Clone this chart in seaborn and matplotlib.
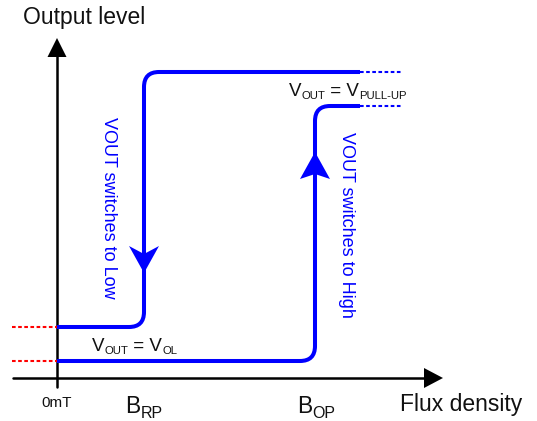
import numpy as np
import pandas as pd
import seaborn as sns
import matplotlib.pyplot as plt
from matplotlib.path import Path
from matplotlib.patches import PathPatch, Polygon

# schematic layout: 1 unit = 1 px, y measured upward from the bottom edge
x0, y0 = 57, 43                 # origin (0mT)
x_axis_left, x_axis_tip = 13, 443
y_axis_bottom, y_axis_tip = 34, 383
b_rp, b_op = 144, 315

# release path (switch to low at B_RP)
rp_x = [57, 144, 144, 360]
rp_y = [94, 94, 349, 349]
# operate path (switch to high at B_OP)
op_x = [57, 315, 315, 360]
op_y = [60, 60, 315, 315]

high_levels = [349, 315]
low_levels = [94, 60]
dash_end = 402
red_left = 12

BLUE = '#0000ff'
RED = '#ff0000'

sns.set_style('white')
plt.rcParams['font.family'] = ['Liberation Sans', 'DejaVu Sans']

fig = plt.figure(figsize=(5.37, 4.21), dpi=100)
ax = fig.add_axes([0, 0, 1, 1])
ax.set_xlim(0, 537)
ax.set_ylim(0, 421)
ax.set_axis_off()


def rounded(xs, ys, r):
    pts = np.column_stack([xs, ys]).astype(float)
    verts, codes = [pts[0]], [Path.MOVETO]
    for i in range(1, len(pts) - 1):
        c, p, q = pts[i], pts[i - 1], pts[i + 1]
        a = c + (p - c) / np.linalg.norm(p - c) * r
        b = c + (q - c) / np.linalg.norm(q - c) * r
        verts += [a, c, b]
        codes += [Path.LINETO, Path.CURVE3, Path.CURVE3]
    verts.append(pts[-1])
    codes.append(Path.LINETO)
    return Path(verts, codes)


def arrowhead(tip, d, length, half, notch, color):
    tx, ty = tip
    dx, dy = d
    px, py = -dy, dx
    bx, by = tx - dx * length, ty - dy * length
    pts = [(tx, ty), (bx + px * half, by + py * half),
           (tx - dx * (length - notch), ty - dy * (length - notch)),
           (bx - px * half, by - py * half)]
    ax.add_patch(Polygon(pts, closed=True, facecolor=color, edgecolor='none', zorder=5))


# axes
sns.lineplot(x=[x_axis_left, x_axis_tip - 18], y=[y0, y0], color='black',
             linewidth=1.8, estimator=None, sort=False, ax=ax)
sns.lineplot(x=[x0, x0], y=[y_axis_bottom, y_axis_tip - 18], color='black',
             linewidth=1.8, estimator=None, sort=False, ax=ax)
arrowhead((x_axis_tip, y0), (1, 0), 19, 10, 0, 'black')
arrowhead((x0, y_axis_tip), (0, 1), 19, 9.5, 0, 'black')

dotted = (0, (1.75, 1.2))

# red dashed level markers left of the axis
red = pd.DataFrame({'x': [red_left, x0] * 2,
                    'y': [low_levels[0]] * 2 + [low_levels[1]] * 2,
                    'seg': [0, 0, 1, 1]})
sns.lineplot(data=red, x='x', y='y', units='seg', estimator=None, sort=False,
             color=RED, linewidth=1.5, linestyle=dotted, ax=ax)

# blue dotted continuations of the high level
blue = pd.DataFrame({'x': [rp_x[-1], dash_end] * 2,
                     'y': [high_levels[0]] * 2 + [high_levels[1]] * 2,
                     'seg': [0, 0, 1, 1]})
sns.lineplot(data=blue, x='x', y='y', units='seg', estimator=None, sort=False,
             color=BLUE, linewidth=1.5, linestyle=dotted, ax=ax)

# hysteresis paths
for xs, ys in [(rp_x, rp_y), (op_x, op_y)]:
    ax.add_patch(PathPatch(rounded(xs, ys, 15), fill=False, edgecolor=BLUE,
                           linewidth=2.9, capstyle='butt', joinstyle='round', zorder=4))

arrowhead((b_rp, 148), (0, -1), 27, 15, 8, BLUE)
arrowhead((b_op, 269), (0, 1), 27, 15, 5, BLUE)


def chained(x, y, pieces, color='#111111'):
    first = ax.text(x, y, pieces[0][0], fontsize=pieces[0][1], color=color,
                    ha='left', va='baseline')
    t = first
    for s, fs, dy in pieces[1:]:
        t = ax.annotate(s, xy=(1, 0), xycoords=(t, first), xytext=(0, dy),
                        textcoords='offset points', fontsize=fs, color=color,
                        ha='left', va='bottom')
    return first


big, sub = 13.5, 8.2
chained(289, 325.5, [('V', big), ('OUT', sub, -1), (' = V', big, 0), ('PULL-UP', sub, -1)])
chained(92, 70, [('V', big), ('OUT', sub, -1), (' = V', big, 0), ('OL', sub, -1)])
chained(125, 7.7, [('B', 16.5), ('RP', 11.5, -2)])
chained(297, 8, [('B', 16.5), ('OP', 11.5, -2)])

ax.text(23, 397, 'Output level', fontsize=16.5, color='#111111', ha='left', va='baseline')
ax.text(400, 10.5, 'Flux density', fontsize=16.5, color='#111111', ha='left', va='baseline')
ax.text(57, 14.3, '0mT', fontsize=11, color='#111111', ha='center', va='baseline')

ax.text(108, 213.5, 'VOUT switches to Low', fontsize=13, color=BLUE,
        rotation=270, ha='center', va='center')
ax.text(347, 196.5, 'VOUT switches to High', fontsize=13, color=BLUE,
        rotation=270, ha='center', va='center')

fig.savefig('out.png', dpi=100)
